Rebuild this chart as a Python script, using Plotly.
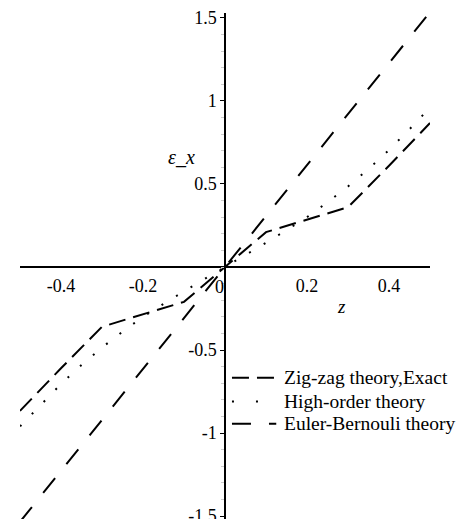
import plotly.graph_objects as go

# Strain through the thickness: z coordinate vs. epsilon_x
z_zigzag = [-0.5, -0.4, -0.3, -0.1, 0.0, 0.1, 0.3, 0.4, 0.5]
eps_zigzag = [-0.867, -0.61, -0.36, -0.21, 0.0, 0.21, 0.36, 0.61, 0.867]

z_high = [-0.5, -0.45, -0.4, -0.35, -0.3, -0.25, -0.2, -0.15, -0.1, -0.05, 0.0,
          0.05, 0.1, 0.15, 0.2, 0.25, 0.3, 0.35, 0.4, 0.45, 0.5]
eps_high = [-0.96, -0.83, -0.705, -0.59, -0.485, -0.39, -0.30, -0.222, -0.146, -0.072, 0.0,
            0.072, 0.146, 0.222, 0.30, 0.39, 0.485, 0.59, 0.705, 0.83, 0.96]

z_euler = [-0.5, 0.5]
eps_euler = [-1.535, 1.535]

series_names = ["Zig-zag theory,Exact", "High-order theory", "Euler-Bernouli theory"]

x_tickvals = [-0.4, -0.2, 0.2, 0.4]
x_ticktext = ["-0.4", "-0.2", "0.2", "0.4"]
y_tickvals = [-1.5, -1.0, -0.5, 0.5, 1.0, 1.5]
y_ticktext = ["-1.5", "-1", "-0.5", "0.5", "1", "1.5"]

serif = "Liberation Serif, Times New Roman, serif"

dash_styles = ["17px,8px", "2px,15px", "19px,18px"]
key_dash_styles = ["17px,8px", "2px,22px", "19px,18px"]

fig = go.Figure()
for xs, ys, name, dash in zip([z_zigzag, z_high, z_euler], [eps_zigzag, eps_high, eps_euler],
                              series_names, dash_styles):
    fig.add_trace(go.Scatter(
        x=xs, y=ys, mode="lines", name=name,
        line=dict(color="black", width=2, dash=dash),
    ))

y_lo, y_hi = -1.518, 1.530
x_axis_pos = (0 - y_lo) / (y_hi - y_lo)

# Key placed in the lower-right quadrant: sample line + label per series
key_rows_y = [0.279, 0.232, 0.188]
key_x0, key_x1, key_text_x = 0.517, 0.625, 0.64
shapes = []
annotations = []
for name, dash, yk in zip(series_names, key_dash_styles, key_rows_y):
    shapes.append(dict(type="line", xref="paper", yref="paper",
                       x0=key_x0, x1=key_x1, y0=yk, y1=yk,
                       line=dict(color="black", width=2, dash=dash)))
    annotations.append(dict(x=key_text_x, y=yk, xref="paper", yref="paper",
                            text=name, showarrow=False, xanchor="left", yanchor="middle",
                            font=dict(family=serif, size=19.5)))

annotations += [
    dict(x=0, y=0, xref="x", yref="y", text="0", showarrow=False,
         xanchor="center", yanchor="top", xshift=-6, yshift=-8,
         font=dict(family=serif, size=18)),
    dict(x=-0.105, y=0.66, xref="x", yref="y", text="<i>ε_x</i>", showarrow=False,
         font=dict(family=serif, size=20)),
    dict(x=0.285, y=-0.24, xref="x", yref="y", text="<i>z</i>", showarrow=False,
         font=dict(family=serif, size=19)),
]

fig.update_layout(
    width=459, height=519,
    margin=dict(l=20, r=29, t=13, b=0, autoexpand=False),
    plot_bgcolor="white", paper_bgcolor="white",
    font=dict(family=serif, size=18, color="black"),
    showlegend=False,
    xaxis=dict(
        range=[-0.5, 0.5], anchor="free", position=x_axis_pos, automargin=False,
        showline=True, linecolor="black", linewidth=1.5,
        showgrid=False, zeroline=False, ticks="",
        tickvals=x_tickvals, ticktext=x_ticktext,
        tickfont=dict(family=serif, size=18),
        ticklabelstandoff=3,
    ),
    yaxis=dict(
        range=[y_lo, y_hi], anchor="free", position=0.5, automargin=False,
        showline=True, linecolor="black", linewidth=1.5,
        showgrid=False, zeroline=False,
        ticks="outside", ticklen=4, tickcolor="black", tickwidth=1,
        tickvals=y_tickvals, ticktext=y_ticktext,
        tickfont=dict(family=serif, size=18),
        ticklabeloverflow="allow",
        minor=dict(dtick=0.1, ticks="outside", ticklen=3, tickcolor="#cccccc"),
    ),
    shapes=shapes,
    annotations=annotations,
)

fig.write_html("out.html")
